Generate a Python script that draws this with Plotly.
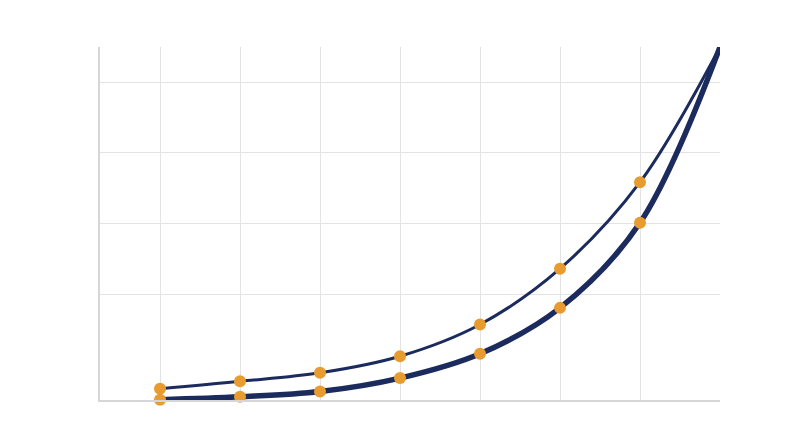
import plotly.graph_objects as go

# x positions of the points (last one is the shared end of both curves)
x_vals = [1, 2, 3, 4, 5, 6, 7, 8]

# upper curve (thin line)
upper = [3.2, 5.3, 7.7, 12.4, 21.4, 37.2, 61.7, 100]

# lower curve (thick line)
lower = [0.1, 0.9, 2.4, 6.2, 13.1, 26.1, 50.2, 100]

# grid positions on the y axis
y_grid = [30, 50, 70, 90]

navy = '#1b2b5e'
orange = '#e89b2f'

# no marker on the shared end point
marker_sizes = [12] * (len(x_vals) - 1) + [0]

lines = [
    go.Scatter(x=x_vals, y=lower, mode='lines+markers', line_shape='spline',
               line=dict(color=navy, width=5.5), cliponaxis=False,
               marker=dict(color=orange, size=marker_sizes, opacity=1,
                           line=dict(width=0))),
    go.Scatter(x=x_vals, y=upper, mode='lines+markers', line_shape='spline',
               line=dict(color=navy, width=3), cliponaxis=False,
               marker=dict(color=orange, size=marker_sizes, opacity=1,
                           line=dict(width=0))),
]

fig = go.Figure(data=lines)

# page body adds 8px, so margins are shifted by that
fig.update_layout(width=800, height=447,
                  margin=dict(l=92, r=88, t=39, b=55),
                  paper_bgcolor='white', plot_bgcolor='white',
                  showlegend=False,
                  xaxis=dict(range=[0.25, 8], tickvals=[1, 2, 3, 4, 5, 6, 7],
                             showticklabels=False, showgrid=True, gridcolor='#e3e3e3',
                             zeroline=False, showline=True, linecolor='#d6d6d6', linewidth=2),
                  yaxis=dict(range=[0, 100], tickvals=y_grid,
                             showticklabels=False, showgrid=True, gridcolor='#e3e3e3',
                             zeroline=False, showline=True, linecolor='#d6d6d6', linewidth=2),
                  )

fig.write_html("out.html")
